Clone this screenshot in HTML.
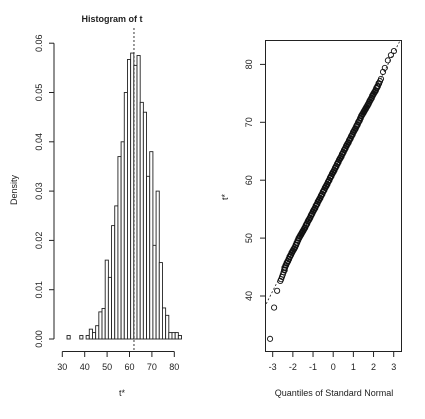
<!DOCTYPE html>
<html><head><meta charset="utf-8"><style>
body{margin:0;background:#fff}
svg{display:block;font-family:"Liberation Sans",sans-serif}
text{fill:#222;font-size:9px}
</style></head><body>
<svg id="c" width="425" height="419" xmlns="http://www.w3.org/2000/svg"></svg>
<script>
// Histogram data
const histStart = 29.27;
const histWidth = 1.42;
const histDensity = [0,0,0.0007,0,0,0,0.0007,0,0.0007,0.002,0.0013,0.0027,0.0055,0.0062,0.016,0.0125,0.023,0.027,0.037,0.040,0.050,0.0567,0.058,0.0555,0.0575,0.048,0.046,0.033,0.038,0.019,0.030,0.0155,0.0063,0.0048,0.0013,0.0013,0.0013,0.0007];
const histXTicks = [30,40,50,60,70,80];
const histYTicks = ["0.00","0.01","0.02","0.03","0.04","0.05","0.06"];
const t0 = 62;
// QQ data
const qqX = [-3.13,-2.93,-2.78,-2.62,-2.58,-2.54,-2.5,-2.46,-2.42,
-2.4,-2.35,-2.3,-2.25,-2.2,-2.15,-2.1,-2.05,-2.0,-1.95,-1.9,-1.85,-1.8,-1.75,-1.7,-1.65,-1.6,-1.55,-1.5,-1.45,-1.4,-1.35,-1.3,-1.25,-1.2,-1.15,-1.1,-1.05,-1.0,-0.95,-0.9,-0.85,-0.8,-0.75,-0.7,-0.65,-0.6,-0.55,-0.5,-0.45,-0.4,-0.35,-0.3,-0.25,-0.2,-0.15,-0.1,-0.05,0,0.05,0.1,0.15,0.2,0.25,0.3,0.35,0.4,0.45,0.5,0.55,0.6,0.65,0.7,0.75,0.8,0.85,0.9,0.95,1.0,1.05,1.1,1.15,1.2,1.25,1.3,1.35,1.4,1.45,1.5,1.55,1.6,1.65,1.7,1.75,1.8,1.85,1.9,1.95,2.0,2.05,2.1,2.15,2.2,2.26,2.32,2.37,2.47,2.56,2.71,2.86,3.01];
const qqY = [32.6,38.0,40.9,42.6,42.9,43.3,43.7,44.1,44.5,
44.9,45.3,45.7,46.0,46.4,46.8,47.1,47.5,47.8,48.1,48.4,48.8,49.2,49.6,50.0,50.3,50.6,50.9,51.2,51.5,51.8,52.2,52.5,52.9,53.2,53.5,53.9,54.2,54.6,54.9,55.2,55.6,55.9,56.3,56.6,56.9,57.3,57.6,58.0,58.3,58.7,59.0,59.3,59.7,60.0,60.4,60.7,61.1,61.4,61.7,62.1,62.4,62.8,63.1,63.5,63.8,64.1,64.5,64.8,65.2,65.5,65.9,66.2,66.5,66.9,67.2,67.6,67.9,68.3,68.6,68.9,69.3,69.6,70.0,70.3,70.7,71.1,71.4,71.7,72.0,72.3,72.6,72.9,73.2,73.6,73.9,74.2,74.6,74.9,75.2,75.5,75.9,76.2,76.7,77.1,77.5,78.7,79.4,80.7,81.6,82.3,82.9];
const qqXTicks = [-3,-2,-1,0,1,2,3];
const qqYTicks = [40,50,60,70,80];
const lineIntercept = 61.4, lineSlope = 6.85;

const NS="http://www.w3.org/2000/svg", svg=document.getElementById('c');
function mk(tag,attrs,parent){const e=document.createElementNS(NS,tag);for(const k in attrs)e.setAttribute(k,attrs[k]);(parent||svg).appendChild(e);return e;}
function txt(x,y,s,extra,parent){const e=mk('text',Object.assign({x:x,y:y,'text-anchor':'middle'},extra||{}),parent);e.textContent=s;return e;}

// Left histogram
const hx=v=>62.3+(v-30)*2.24, hy=v=>339-v*4930;
const gH=mk('g',{});


histDensity.forEach((d,i)=>{
  const x0=hx(histStart+i*histWidth), x1=hx(histStart+(i+1)*histWidth);
  const r=mk('rect',{x:x0,y:hy(d),width:x1-x0,height:339-hy(d),fill:'#fff',stroke:'#222','stroke-width':0.9},gH);
  
  
});
const vl=mk('line',{x1:hx(t0),x2:hx(t0),y1:28,y2:351,stroke:'#222','stroke-dasharray':'2,2','stroke-width':0.9},gH);


mk('line',{x1:hx(30),x2:hx(80),y1:351.5,y2:351.5,stroke:'#222'},gH);
histXTicks.forEach(t=>{mk('line',{x1:hx(t),x2:hx(t),y1:351.5,y2:357,stroke:'#222'},gH);const l=txt(hx(t),370,t,{},gH);});
mk('line',{x1:54,x2:54,y1:hy(0),y2:hy(0.06),stroke:'#222'},gH);
histYTicks.forEach(t=>{const y=hy(+t);mk('line',{x1:49,x2:54,y1:y,y2:y,stroke:'#222'},gH);const l=txt(42,y,t,{transform:`rotate(-90 42 ${y})`},gH);});
const tt=txt(112,22,'Histogram of t',{'font-weight':'bold','font-size':'11.5px'},gH);


const yl=txt(17,190,'Density',{transform:'rotate(-90 17 190)'},gH);


const xl=txt(122,396,'t*',{},gH);



// Right QQ plot
const qx=v=>333.2+v*20.17, qy=v=>296-(v-40)*5.79;
const gQ=mk('g',{});


const cp=mk('clipPath',{id:'qc'},gQ);
mk('rect',{x:265,y:40,width:136,height:311},cp);
const ql=mk('line',{x1:qx(-3.5),x2:qx(3.5),y1:qy(lineIntercept-3.5*lineSlope),y2:qy(lineIntercept+3.5*lineSlope),stroke:'#222','stroke-dasharray':'2,2','stroke-width':0.8,'clip-path':'url(#qc)'},gQ);


qqX.forEach((x,i)=>{
  const dense = x>-2.45 && x<2.3;
  const c=mk('circle',{cx:qx(x),cy:qy(qqY[i]),r:2.6,fill:'none',stroke:'#111','stroke-width':dense?1.5:0.9},gQ);
  
  
});
const box=mk('rect',{x:265.5,y:40.5,width:136,height:311,fill:'none',stroke:'#222'},gQ);


qqXTicks.forEach(t=>{mk('line',{x1:qx(t),x2:qx(t),y1:351.5,y2:357,stroke:'#222'},gQ);const l=txt(qx(t),370,t,{},gQ);});
qqYTicks.forEach(t=>{const y=qy(t);mk('line',{x1:260,x2:265.5,y1:y,y2:y,stroke:'#222'},gQ);const l=txt(252,y,t,{transform:`rotate(-90 252 ${y})`},gQ);});
const qxl=txt(334,396,'Quantiles of Standard Normal',{},gQ);


const qyl=txt(228,197,'t*',{transform:'rotate(-90 228 197)'},gQ);


</script>
</body></html>
